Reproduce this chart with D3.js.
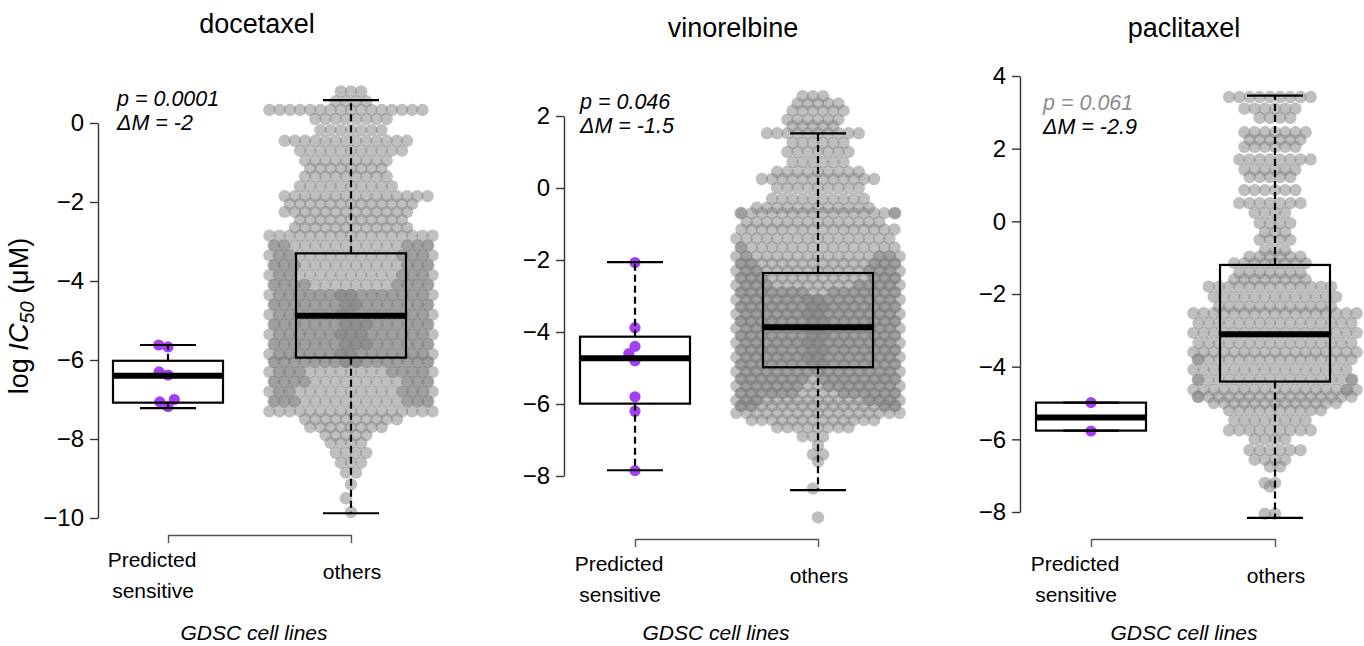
<!DOCTYPE html>
<html>
<head>
<meta charset="utf-8">
<script src="https://cdn.jsdelivr.net/npm/d3@7"></script>
<style>
  body { margin: 0; background: #fff; }
  svg { display: block; font-family: "Liberation Sans", Arial, Helvetica, sans-serif; }
</style>
</head>
<body>
<div id="chart"></div>
<script>
// drugs, labels, stats
const drugs = ["docetaxel", "vinorelbine", "paclitaxel"];
const groups = ["sensitive", "others"];
const pValues = ["0.0001", "0.046", "0.061"];
const deltaM = ["-2", "-1.5", "-2.9"];
const yTicks = [
  [0, -2, -4, -6, -8, -10],
  [2, 0, -2, -4, -6, -8],
  [4, 2, 0, -2, -4, -6, -8]
];

// predicted sensitive cell lines, log IC50
const docetaxelSensitive = [-5.62, -5.67, -6.3, -6.38, -7.0, -7.06, -7.18];
const vinorelbineSensitive = [-2.07, -3.88, -4.4, -4.6, -4.8, -5.8, -6.2, -7.85];
const paclitaxelSensitive = [-4.99, -5.77];

const docetaxelOthersLevels = [0.8, 0.55, 0.33, 0.1, -0.18, -0.45, -0.7, -0.95, -1.15, -1.35, -1.6, -1.85, -2.05, -2.25,
  -2.45, -2.65, -2.85, -3.1, -3.35, -3.6, -3.85, -4.1, -4.35, -4.6, -4.85, -5.1, -5.35, -5.6, -5.85, -6.05, -6.3,
  -6.55, -6.8, -7.05, -7.3, -7.5, -7.7, -7.9, -8.1, -8.35, -8.6, -8.85, -9.15, -9.5, -9.85];
const docetaxelOthersCounts = [3, 4, 16, 8, 7, 13, 11, 9, 8, 9, 10, 15, 13, 13,
  11, 12, 17, 21, 22, 22, 22, 24, 34, 34, 34, 35, 35, 35, 34, 34, 24,
  23, 22, 22, 17, 10, 8, 5, 4, 4, 3, 2, 1, 1, 1];

const vinorelbineOthersLevels = [2.55, 2.35, 2.15, 1.9, 1.72, 1.52, 1.25, 1.0, 0.72, 0.45, 0.25, 0.0, -0.3, -0.55, -0.7,
  -0.95, -1.15, -1.4, -1.65, -1.9, -2.1, -2.3, -2.5, -2.7, -2.9, -3.1, -3.3, -3.5, -3.7, -3.9, -4.1, -4.3, -4.5,
  -4.7, -4.9, -5.1, -5.3, -5.5, -5.7, -5.9, -6.05, -6.25, -6.45, -6.65, -6.9, -7.15, -7.4, -7.6, -8.35, -9.15];
const vinorelbineOthersCounts = [3, 5, 6, 6, 5, 10, 6, 7, 6, 9, 12, 9, 10, 12, 18,
  14, 16, 16, 17, 20, 21, 22, 22, 24, 30, 34, 34, 34, 34, 34, 34, 34, 34,
  34, 34, 32, 31, 30, 28, 22, 20, 17, 13, 8, 3, 1, 2, 1, 1, 1];

const paclitaxelOthersLevels = [3.42, 3.1, 2.85, 2.45, 2.25, 2.05, 1.7, 1.42, 1.22, 0.86, 0.5, 0.23, -0.05, -0.3, -0.51,
  -0.8, -0.97, -1.15, -1.42, -1.6, -1.8, -2.08, -2.35, -2.53, -2.8, -3.07, -3.35, -3.6, -3.8, -4.08, -4.36, -4.64,
  -4.83, -5.0, -5.2, -5.48, -5.75, -6.0, -6.3, -6.56, -6.75, -7.2, -7.3, -8.05];
const paclitaxelOthersCounts = [9, 6, 4, 7, 6, 6, 8, 6, 5, 6, 7, 4, 4, 3, 4,
  3, 6, 8, 7, 8, 13, 13, 12, 17, 16, 17, 16, 17, 17, 16, 18, 18,
  17, 13, 10, 8, 9, 4, 6, 4, 2, 2, 1, 2];

// box stats: [lower whisker, Q1, median, Q3, upper whisker]
const docetaxelSensitiveBox = [-7.22, -7.08, -6.4, -6.02, -5.62];
const docetaxelOthersBox = [-9.88, -5.94, -4.88, -3.3, 0.58];
const vinorelbineSensitiveBox = [-7.84, -5.99, -4.73, -4.13, -2.06];
const vinorelbineOthersBox = [-8.39, -4.98, -3.87, -2.36, 1.52];
const paclitaxelSensitiveBox = [-5.76, -5.76, -5.4, -4.99, -4.99];
const paclitaxelOthersBox = [-8.16, -4.41, -3.11, -1.2, 3.46];

const sensitiveData = [docetaxelSensitive, vinorelbineSensitive, paclitaxelSensitive];
const othersLevels = [docetaxelOthersLevels, vinorelbineOthersLevels, paclitaxelOthersLevels];
const othersCounts = [docetaxelOthersCounts, vinorelbineOthersCounts, paclitaxelOthersCounts];
const sensitiveBoxes = [docetaxelSensitiveBox, vinorelbineSensitiveBox, paclitaxelSensitiveBox];
const othersBoxes = [docetaxelOthersBox, vinorelbineOthersBox, paclitaxelOthersBox];

// layout of each panel (pixels)
const panels = [
  {axisX: 98, yTop: 123, yBottom: 518, centers: [168, 351], bracketY: 535, titleX: 257, titleY: 33, statX: 117, statY: 106, gdscX: 254},
  {axisX: 564, yTop: 116, yBottom: 476, centers: [635, 818], bracketY: 539, titleX: 733, titleY: 37, statX: 580, statY: 109, gdscX: 716},
  {axisX: 1020, yTop: 76, yBottom: 512, centers: [1091, 1275], bracketY: 539, titleX: 1184, titleY: 37, statX: 1043, statY: 110, gdscX: 1184}
];

const width = 1364, height = 646;
const boxHalf = 55, capHalf = 28, corral = 82, step = 10.2;

let svg = d3.select("#chart").append("svg")
  .attr("width", width)
  .attr("height", height);

// swarm layout for the few purple points: nearest free spot to the centre
function swarm(values, y, gap) {
  let sorted = values.slice().sort((a, b) => a - b);
  let placed = [];
  sorted.forEach(function (v) {
    let py = y(v);
    let near = placed.filter((q) => Math.abs(q.y - py) < gap);
    let cand = [0];
    near.forEach(function (n) {
      let dx = Math.sqrt(gap * gap - (n.y - py) * (n.y - py));
      cand.push(n.x - dx, n.x + dx);
    });
    cand.sort((a, b) => Math.abs(a) - Math.abs(b) || a - b);
    let x = cand.find((c) => near.every((n) => (c - n.x) ** 2 + (n.y - py) ** 2 >= gap * gap - 0.01));
    placed.push({v: v, y: py, x: x});
  });
  return placed;
}

// rows of grey points: centred, alternate rows shifted half a step, wrapped inside the corral
function rows(levels, counts, y) {
  let order = d3.range(levels.length).sort((a, b) => levels[a] - levels[b]);
  let pts = [];
  order.forEach(function (idx, k) {
    let off = (k % 2) * step / 2;
    let slots = d3.range(-30, 31).map((j) => off + j * step)
      .sort((a, b) => Math.abs(a) - Math.abs(b) || a - b);
    for (let n = 0; n < counts[idx]; n++) {
      pts.push({v: levels[idx], y: y(levels[idx]), x: wrap(slots[n])});
    }
  });
  return pts;
}

function wrap(x) {
  if (Math.abs(x) <= corral) return x;
  return ((x + corral) % (2 * corral) + 2 * corral) % (2 * corral) - corral;
}

panels.forEach(function (p, i) {
  let ticks = yTicks[i];
  let y = d3.scaleLinear()
    .domain([d3.min(ticks), d3.max(ticks)])
    .range([p.yBottom, p.yTop]);

  let g = svg.append("g");

  // y axis
  g.append("g")
    .attr("transform", `translate(${p.axisX},0)`)
    .call(d3.axisLeft(y).tickValues(ticks).tickSize(8).tickSizeOuter(0).tickPadding(6))
    .call((a) => a.selectAll("path, line").attr("stroke", "#333").attr("stroke-width", 1.4))
    .call((a) => a.selectAll("text").attr("font-size", 24).attr("fill", "#000")
      .attr("font-family", "Liberation Sans, Arial, sans-serif"));

  // x axis bracket
  let x = d3.scalePoint().domain(groups).range(p.centers);
  g.append("g")
    .attr("transform", `translate(0,${p.bracketY})`)
    .call(d3.axisBottom(x).tickSize(8).tickSizeOuter(0).tickFormat(""))
    .call((a) => a.selectAll("path, line").attr("stroke", "#555").attr("stroke-width", 1.4));

  // other cell lines (grey swarm)
  let greyPts = rows(othersLevels[i], othersCounts[i], y);
  g.append("g").selectAll("circle")
    .data(greyPts)
    .join("circle")
    .attr("cx", (d) => x("others") + d.x)
    .attr("cy", (d) => d.y)
    .attr("r", 6.2)
    .attr("fill", "#808080")
    .attr("fill-opacity", 0.5);

  // predicted sensitive (purple)
  let purplePts = swarm(sensitiveData[i], y, 9.5);
  g.append("g").selectAll("circle")
    .data(purplePts)
    .join("circle")
    .attr("cx", (d) => x("sensitive") + d.x)
    .attr("cy", (d) => d.y)
    .attr("r", 5.6)
    .attr("fill", "#a53ff2");

  // boxes
  [["sensitive", sensitiveBoxes[i]], ["others", othersBoxes[i]]].forEach(function (b) {
    let cx = x(b[0]);
    let s = b[1];
    let bg = g.append("g").attr("stroke", "#000").attr("fill", "none");
    bg.append("line").attr("x1", cx).attr("x2", cx).attr("y1", y(s[3])).attr("y2", y(s[4]))
      .attr("stroke-width", 2.2).attr("stroke-dasharray", "7,4");
    bg.append("line").attr("x1", cx).attr("x2", cx).attr("y1", y(s[1])).attr("y2", y(s[0]))
      .attr("stroke-width", 2.2).attr("stroke-dasharray", "7,4");
    bg.selectAll(".cap").data([s[0], s[4]]).join("line")
      .attr("x1", cx - capHalf).attr("x2", cx + capHalf)
      .attr("y1", (d) => y(d)).attr("y2", (d) => y(d))
      .attr("stroke-width", 2.2);
    bg.append("rect")
      .attr("x", cx - boxHalf).attr("width", 2 * boxHalf)
      .attr("y", y(s[3])).attr("height", y(s[1]) - y(s[3]))
      .attr("stroke-width", 2.2);
    bg.append("line").attr("x1", cx - boxHalf).attr("x2", cx + boxHalf)
      .attr("y1", y(s[2])).attr("y2", y(s[2]))
      .attr("stroke-width", 6);
  });

  // title
  g.append("text")
    .attr("x", p.titleX).attr("y", p.titleY)
    .attr("text-anchor", "middle")
    .attr("font-size", 27)
    .text(drugs[i]);

  // stats text
  g.append("text")
    .attr("x", p.statX).attr("y", p.statY)
    .attr("font-size", 21.5).attr("font-style", "italic")
    .attr("fill", i === 2 ? "#8c8c8c" : "#000")
    .text("p = " + pValues[i]);
  g.append("text")
    .attr("x", p.statX).attr("y", p.statY + 24)
    .attr("font-size", 21.5).attr("font-style", "italic")
    .text("\u0394M = " + deltaM[i]);

  // group labels
  let lab = g.append("g").attr("font-size", 21).attr("text-anchor", "middle");
  lab.append("text").attr("x", x("sensitive") - 16).attr("y", p.bracketY + 32).text("Predicted");
  lab.append("text").attr("x", x("sensitive") - 15).attr("y", p.bracketY + 63).text("sensitive");
  lab.append("text").attr("x", x("others") + 1).attr("y", p.bracketY + 44).text("others");
  lab.append("text").attr("x", p.gdscX).attr("y", 640)
    .attr("font-style", "italic").text("GDSC cell lines");
});

// y axis title
let yl = svg.append("text")
  .attr("transform", "translate(28,316) rotate(-90)")
  .attr("text-anchor", "middle")
  .attr("font-size", 27);
yl.append("tspan").text("log ");
yl.append("tspan").attr("font-style", "italic").text("IC");
yl.append("tspan").attr("font-style", "italic").attr("font-size", 20).attr("dy", 6).text("50");
yl.append("tspan").attr("dy", -6).text(" (\u03bcM)");
</script>
</body>
</html>
